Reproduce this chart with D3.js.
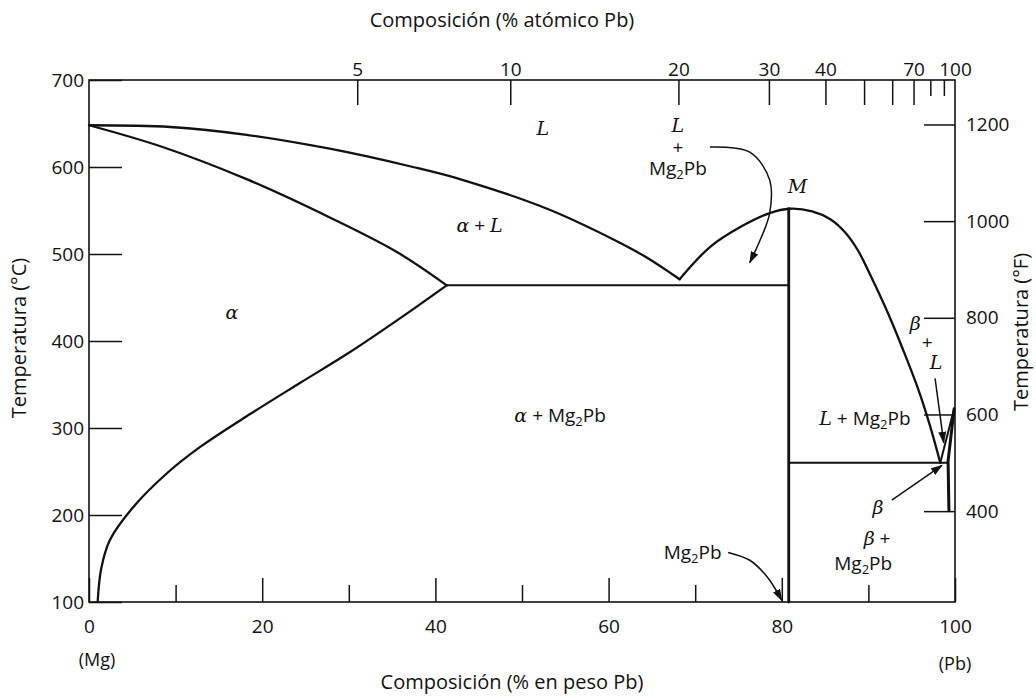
<!DOCTYPE html>
<html>
<head>
<meta charset="utf-8">
<script src="https://cdnjs.cloudflare.com/ajax/libs/d3/7.8.5/d3.min.js"></script>
<style>
  body { margin: 0; background: #fff; }
  svg text { font-family: "Open Sans", sans-serif; fill: #111; }
</style>
</head>
<body>
<svg id="chart" width="1036" height="698"></svg>
<script>
// axis ticks
const wtTicks = [0, 10, 20, 30, 40, 50, 60, 70, 80, 90, 100];
const wtLabels = [0, 20, 40, 60, 80, 100];
const cTicks = [100, 200, 300, 400, 500, 600, 700];
const fTicks = [400, 600, 800, 1000, 1200];
const atTicks = [5, 10, 20, 30, 40, 50, 60, 70, 80, 90, 100];
const atLabels = [5, 10, 20, 30, 40, 70, 100];
const atShort = [80, 90];

// phase boundaries: [wt% Pb, °C]
const liquidusLeft = [[0, 648], [9.4, 646], [18.2, 637], [27.8, 621], [37.4, 600], [43.2, 585], [52.9, 552], [60.5, 517], [64.4, 496], [68.2, 471]];
const solidusAlpha = [[0, 648], [8.5, 623], [18.2, 586], [27.8, 542], [35.6, 502], [41.3, 464]];
const solvusAlpha = [[1.0, 100], [1.4, 138], [2.4, 171], [5.1, 209], [9.0, 248], [12.8, 278], [18.6, 316], [24.4, 352], [30.1, 387], [35.9, 426], [41.3, 464]];
const liquidusRight = [[68.2, 471], [71.7, 508], [75.2, 531], [78.6, 547], [80.9, 552], [83.5, 549], [85.6, 540], [87.3, 525], [88.8, 504], [90.4, 472], [92.3, 431], [94.0, 390], [95.7, 346], [97.1, 303], [98.3, 260]];
const eutecticAlpha = [[41.3, 464], [80.8, 464]];
const compoundLine = [[80.8, 552], [80.8, 100]];
const eutecticBeta = [[80.8, 260], [99.2, 260]];
const liquidusPb = [[98.3, 260], [99.9, 322]];
const solvusBeta = [[99.9, 322], [99.2, 262], [99.3, 205]];

// label arrows
const arrowLiquid = [[71.7, 623], [76.3, 617], [78.6, 585], [78.6, 547], [77.5, 516], [76.3, 490]];
const arrowCompound = [[73.8, 157], [76.3, 148], [78.3, 129], [80.0, 102]];
const arrowBeta = [[92.7, 217], [98.5, 257]];
const arrowBetaL = [[97.7, 357], [98.7, 283]];

const svg = d3.select('#chart');

const x = d3.scaleLinear().domain([0, 100]).range([89, 955]);
const y = d3.scaleLinear().domain([100, 700]).range([602, 80]);
const cToF = c => c * 9 / 5 + 32;
const yF = d3.scaleLinear().domain([cToF(100), cToF(700)]).range([602, 80]);

function atToWt(a) {
    const pb = a * 207.2, mg = (100 - a) * 24.305;
    return 100 * pb / (pb + mg);
}

svg.append('defs').append('marker')
    .attr('id', 'head')
    .attr('viewBox', '0 0 12 8')
    .attr('refX', 11).attr('refY', 4)
    .attr('markerWidth', 12).attr('markerHeight', 8)
    .attr('markerUnits', 'userSpaceOnUse')
    .attr('orient', 'auto')
    .append('path').attr('d', 'M0,0L12,4L0,8Z').attr('fill', '#111');

// frame
svg.append('rect')
    .attr('x', x(0)).attr('y', y(700))
    .attr('width', x(100) - x(0)).attr('height', y(100) - y(700))
    .attr('fill', 'none').attr('stroke', '#111').attr('stroke-width', 1.6);

function styleAxis(g) {
    g.select('.domain').remove();
    g.selectAll('line').attr('stroke', '#111').attr('stroke-width', 1.5);
    g.selectAll('text').attr('font-size', 19).attr('font-family', '"Open Sans", sans-serif');
}

const fmt = d3.format('d');

// left °C
svg.append('g').attr('transform', `translate(${x(0)},0)`)
    .call(d3.axisLeft(y).tickValues(cTicks).tickFormat(fmt).tickSizeInner(-33).tickSizeOuter(0).tickPadding(5))
    .call(styleAxis);

// right °F
svg.append('g').attr('transform', `translate(${x(100)},0)`)
    .call(d3.axisRight(yF).tickValues(fTicks).tickFormat(fmt).tickSizeInner(-31).tickSizeOuter(0).tickPadding(11))
    .call(styleAxis);

// bottom wt%
svg.append('g').attr('transform', `translate(0,${y(100)})`)
    .call(d3.axisBottom(x).tickValues(wtTicks).tickSizeInner(-17).tickSizeOuter(0).tickPadding(18)
        .tickFormat(d => wtLabels.includes(d) ? d : ''))
    .call(styleAxis)
    .selectAll('.tick line').attr('y2', d => wtLabels.includes(d) ? -24 : -17);

// top atomic %
const topAxis = svg.append('g').attr('transform', `translate(0,${y(700)})`)
    .call(d3.axisTop(x).tickValues(atTicks.map(atToWt)).tickSizeInner(-25).tickSizeOuter(0).tickPadding(4)
        .tickFormat((d, i) => atLabels.includes(atTicks[i]) ? atTicks[i] : ''))
    .call(styleAxis);
topAxis.selectAll('.tick line').attr('y2', (d, i) => {
    const a = atTicks[i];
    if (a === 100) return 0;
    return atShort.includes(a) ? 16 : 25;
});

// axis titles
svg.append('text').attr('x', 502).attr('y', 27).attr('text-anchor', 'middle')
    .attr('font-size', 20).text('Composición (% atómico Pb)');
svg.append('text').attr('x', 512).attr('y', 689).attr('text-anchor', 'middle')
    .attr('font-size', 20).text('Composición (% en peso Pb)');
svg.append('text').attr('x', 97).attr('y', 666).attr('text-anchor', 'middle')
    .attr('font-size', 18).text('(Mg)');
svg.append('text').attr('x', 955).attr('y', 670).attr('text-anchor', 'middle')
    .attr('font-size', 18).text('(Pb)');
svg.append('text').attr('transform', 'translate(26,338) rotate(-90)').attr('text-anchor', 'middle')
    .attr('font-size', 20).text('Temperatura (°C)');
svg.append('text').attr('transform', 'translate(1028,332) rotate(-90)').attr('text-anchor', 'middle')
    .attr('font-size', 20).text('Temperatura (°F)');

// boundaries
const smooth = d3.line().x(d => x(d[0])).y(d => y(d[1])).curve(d3.curveCatmullRom.alpha(0.5));
const straight = d3.line().x(d => x(d[0])).y(d => y(d[1]));
const curves = svg.append('g').attr('fill', 'none').attr('stroke', '#111')
    .attr('stroke-linejoin', 'round').attr('stroke-linecap', 'round');

[liquidusLeft, solidusAlpha, solvusAlpha, liquidusRight].forEach(c => {
    curves.append('path').attr('d', smooth(c)).attr('stroke-width', 2.3);
});
[eutecticAlpha, eutecticBeta, liquidusPb].forEach(c => {
    curves.append('path').attr('d', straight(c)).attr('stroke-width', 2);
});
curves.append('path').attr('d', straight(compoundLine)).attr('stroke-width', 2.8);
curves.append('path').attr('d', straight(solvusBeta)).attr('stroke-width', 3);

// arrows
const arrows = svg.append('g').attr('fill', 'none').attr('stroke', '#111').attr('stroke-width', 1.5);
[arrowLiquid, arrowCompound, arrowBeta, arrowBetaL].forEach(a => {
    arrows.append('path').attr('d', smooth(a)).attr('marker-end', 'url(#head)');
});

// region labels: parts are [text, style]
const labels = [
    {at: [52.4, 645], parts: [['L', 'i']]},
    {at: [68.0, 648], parts: [['L', 'i']]},
    {at: [68.0, 623], parts: [['+', '']]},
    {at: [68.0, 599], parts: [['Mg', ''], ['2', 'sub'], ['Pb', '']]},
    {at: [81.8, 578], parts: [['M', 'i']]},
    {at: [45.1, 533], parts: [['α', 'i'], [' + ', ''], ['L', 'i']]},
    {at: [16.5, 433], parts: [['α', 'i']]},
    {at: [54.4, 315], parts: [['α', 'i'], [' + Mg', ''], ['2', 'sub'], ['Pb', '']]},
    {at: [89.6, 311], parts: [['L', 'i'], [' + Mg', ''], ['2', 'sub'], ['Pb', '']]},
    {at: [95.4, 420], parts: [['β', 'i']]},
    {at: [96.8, 399], parts: [['+', '']]},
    {at: [97.8, 375], parts: [['L', 'i']]},
    {at: [91.1, 209], parts: [['β', 'i']]},
    {at: [91.0, 173], parts: [['β', 'i'], [' +', '']]},
    {at: [89.4, 144], parts: [['Mg', ''], ['2', 'sub'], ['Pb', '']]},
    {at: [69.7, 157], parts: [['Mg', ''], ['2', 'sub'], ['Pb', '']]}
];

labels.forEach(l => {
    const t = svg.append('text')
        .attr('x', x(l.at[0])).attr('y', y(l.at[1]))
        .attr('dy', '0.35em').attr('text-anchor', 'middle').attr('font-size', 19);
    l.parts.forEach(p => {
        const s = t.append('tspan').text(p[0]);
        if (p[1] === 'i') s.attr('font-style', 'italic').attr('font-family', '"DejaVu Serif", serif');
        if (p[1] === 'sub') s.attr('font-size', 13).attr('baseline-shift', '-30%');
    });
});
</script>
</body>
</html>
